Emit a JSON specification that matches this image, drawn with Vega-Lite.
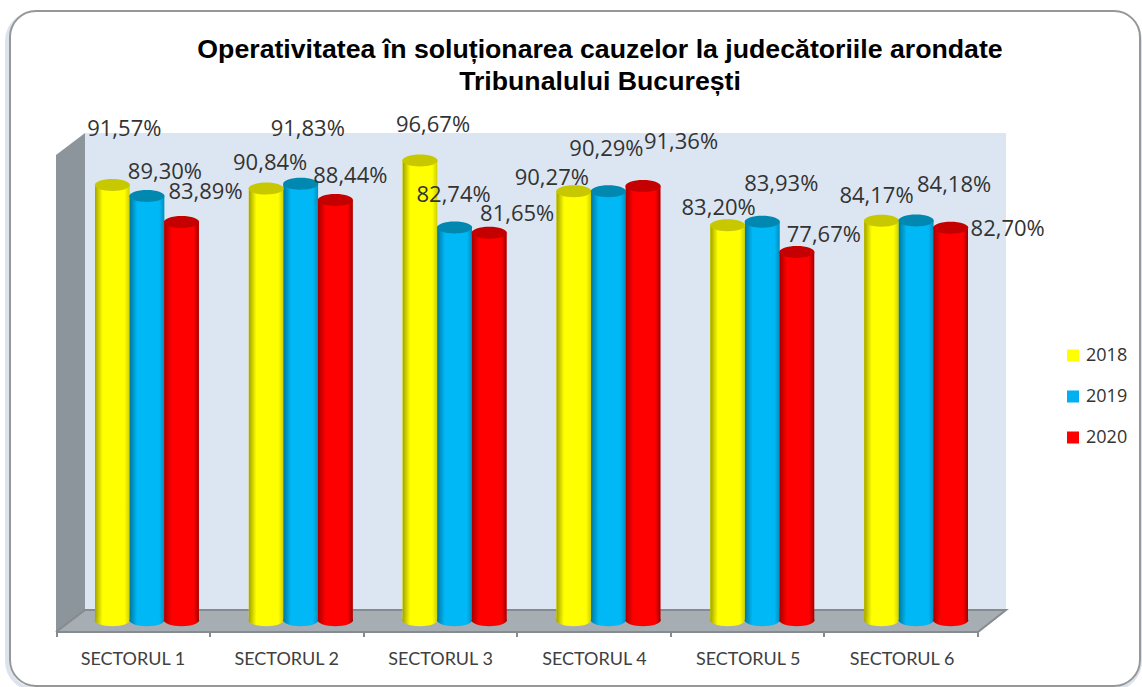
{"$schema":"https://vega.github.io/schema/vega-lite/v6.json","width":1142,"height":532,"autosize":"none","padding":{"top":100,"left":0,"right":0,"bottom":55},"background":"white","config":{"view":{"stroke":null}},"title":{"text":["Operativitatea în soluționarea cauzelor la judecătoriile arondate","Tribunalului București"],"font":"Liberation Sans","fontSize":26.7,"fontWeight":"bold","color":"#000000","anchor":"middle","frame":"group","dx":29,"offset":-86,"lineHeight":32},"datasets":{"rows":[{"sector":"SECTORUL 1","year":"2018","value":91.57,"label":"91,57%"},{"sector":"SECTORUL 1","year":"2019","value":89.30,"label":"89,30%"},{"sector":"SECTORUL 1","year":"2020","value":83.89,"label":"83,89%"},{"sector":"SECTORUL 2","year":"2018","value":90.84,"label":"90,84%"},{"sector":"SECTORUL 2","year":"2019","value":91.83,"label":"91,83%"},{"sector":"SECTORUL 2","year":"2020","value":88.44,"label":"88,44%"},{"sector":"SECTORUL 3","year":"2018","value":96.67,"label":"96,67%"},{"sector":"SECTORUL 3","year":"2019","value":82.74,"label":"82,74%"},{"sector":"SECTORUL 3","year":"2020","value":81.65,"label":"81,65%"},{"sector":"SECTORUL 4","year":"2018","value":90.27,"label":"90,27%"},{"sector":"SECTORUL 4","year":"2019","value":90.29,"label":"90,29%"},{"sector":"SECTORUL 4","year":"2020","value":91.36,"label":"91,36%"},{"sector":"SECTORUL 5","year":"2018","value":83.20,"label":"83,20%"},{"sector":"SECTORUL 5","year":"2019","value":83.93,"label":"83,93%"},{"sector":"SECTORUL 5","year":"2020","value":77.67,"label":"77,67%"},{"sector":"SECTORUL 6","year":"2018","value":84.17,"label":"84,17%"},{"sector":"SECTORUL 6","year":"2019","value":84.18,"label":"84,18%"},{"sector":"SECTORUL 6","year":"2020","value":82.70,"label":"82,70%"}]},"layer":[{"encoding":{"x":{"field":"x","type":"quantitative","scale":{"domain":[0,1142],"nice":false,"zero":false},"axis":null},"y":{"field":"y","type":"quantitative","scale":{"domain":[632,100],"nice":false,"zero":false},"axis":null}},"layer":[{"data":{"values":[{"x":7,"x2":1140,"y":13,"y2":689}]},"mark":{"type":"rect","cornerRadius":28,"fill":"white","stroke":"#dbe4ee","strokeWidth":4},"encoding":{"x2":{"field":"x2"},"y2":{"field":"y2"}}},{"data":{"values":[{"x":10,"x2":1140,"y":11,"y2":686}]},"mark":{"type":"rect","cornerRadius":26,"fill":"white","stroke":"#979797","strokeWidth":2},"encoding":{"x2":{"field":"x2"},"y2":{"field":"y2"}}},{"data":{"values":[{"x":85,"x2":1006,"y":133,"y2":610}]},"mark":{"type":"rect","fill":"#dce6f2"},"encoding":{"x2":{"field":"x2"},"y2":{"field":"y2"}}},{"data":{"values":[{"x":56,"y":155,"y2":632},{"x":85,"y":133,"y2":610}]},"mark":{"type":"area","fill":"#8c949c"},"encoding":{"y2":{"field":"y2"}}},{"data":{"values":[{"x":56,"y":632,"y2":632},{"x":85,"y":610,"y2":632},{"x":978,"y":610,"y2":632},{"x":1006,"y":610,"y2":610}]},"mark":{"type":"area","fill":"#a6adb3"},"encoding":{"y2":{"field":"y2"}}},{"data":{"values":[{"o":0,"x":56,"y":632},{"o":1,"x":85,"y":610},{"o":2,"x":1006,"y":610},{"o":3,"x":978,"y":632},{"o":4,"x":56,"y":632}]},"mark":{"type":"line","stroke":"#868b90","strokeWidth":2},"encoding":{"order":{"field":"o"}}},{"data":{"values":[{"x":57,"y":632,"y2":637},{"x":210,"y":632,"y2":637},{"x":364,"y":632,"y2":637},{"x":517,"y":632,"y2":637},{"x":671,"y":632,"y2":637},{"x":824,"y":632,"y2":637},{"x":978,"y":632,"y2":637}]},"mark":{"type":"rule","stroke":"#868b90","strokeWidth":2},"encoding":{"y2":{"field":"y2"}}}]},{"encoding":{"x":{"field":"sector","type":"nominal","scale":{"range":[70,993],"paddingInner":0.325,"paddingOuter":0.1625},"axis":{"title":null,"domain":false,"ticks":false,"zindex":1,"labelAngle":0,"labelFont":"Lato","labelFontSize":18,"labelColor":"#404040","labelPadding":18,"labelOffset":-14}},"xOffset":{"field":"year","type":"nominal"},"y":{"field":"value","type":"quantitative","scale":{"domain":[0,100],"range":[525.5,44.5],"nice":false},"axis":null}},"layer":[{"data":{"name":"rows"},"mark":{"type":"bar"},"encoding":{"y2":{"datum":1.1},"color":{"field":"year","type":"nominal","scale":{"domain":["2018","2019","2020"],"range":["#ffff00","#00b0f0","#ff0000"]},"legend":{"title":null,"orient":"none","legendX":1064,"legendY":244,"symbolType":"square","symbolSize":144,"symbolStrokeWidth":0,"labelFont":"Open Sans","labelFontSize":18,"labelColor":"#333333","labelOffset":4,"rowPadding":18,"clipHeight":23}}}},{"data":{"name":"rows"},"transform":[{"filter":"datum.year==='2018'"}],"mark":{"type":"bar","color":{"gradient":"linear","x1":0,"x2":1,"y1":0,"y2":0,"stops":[{"offset":0,"color":"#a3a300"},{"offset":0.22,"color":"#ffff00"},{"offset":0.85,"color":"#ffff00"},{"offset":1,"color":"#d0d000"}]}},"encoding":{"y2":{"datum":1.1}}},{"data":{"name":"rows"},"transform":[{"filter":"datum.year==='2019'"}],"mark":{"type":"bar","color":{"gradient":"linear","x1":0,"x2":1,"y1":0,"y2":0,"stops":[{"offset":0,"color":"#00789f"},{"offset":0.22,"color":"#00b8f5"},{"offset":0.85,"color":"#00b8f5"},{"offset":1,"color":"#0090c0"}]}},"encoding":{"y2":{"datum":1.1}}},{"data":{"name":"rows"},"transform":[{"filter":"datum.year==='2020'"}],"mark":{"type":"bar","color":{"gradient":"linear","x1":0,"x2":1,"y1":0,"y2":0,"stops":[{"offset":0,"color":"#a80000"},{"offset":0.22,"color":"#ff0000"},{"offset":0.85,"color":"#ff0000"},{"offset":1,"color":"#a00000"}]}},"encoding":{"y2":{"datum":1.1}}},{"data":{"name":"rows"},"transform":[{"filter":"datum.year==='2018'"}],"mark":{"type":"point","filled":true,"opacity":1,"size":1239,"shape":"M -1 0 A 1 0.34 0 1 1 1 0 A 1 0.34 0 1 1 -1 0 Z","color":{"gradient":"linear","x1":0,"x2":1,"y1":0,"y2":0,"stops":[{"offset":0,"color":"#a3a300"},{"offset":0.22,"color":"#ffff00"},{"offset":0.85,"color":"#ffff00"},{"offset":1,"color":"#d0d000"}]}},"encoding":{"y":{"datum":1.1}}},{"data":{"name":"rows"},"transform":[{"filter":"datum.year==='2019'"}],"mark":{"type":"point","filled":true,"opacity":1,"size":1239,"shape":"M -1 0 A 1 0.34 0 1 1 1 0 A 1 0.34 0 1 1 -1 0 Z","color":{"gradient":"linear","x1":0,"x2":1,"y1":0,"y2":0,"stops":[{"offset":0,"color":"#00789f"},{"offset":0.22,"color":"#00b8f5"},{"offset":0.85,"color":"#00b8f5"},{"offset":1,"color":"#0090c0"}]}},"encoding":{"y":{"datum":1.1}}},{"data":{"name":"rows"},"transform":[{"filter":"datum.year==='2020'"}],"mark":{"type":"point","filled":true,"opacity":1,"size":1239,"shape":"M -1 0 A 1 0.34 0 1 1 1 0 A 1 0.34 0 1 1 -1 0 Z","color":{"gradient":"linear","x1":0,"x2":1,"y1":0,"y2":0,"stops":[{"offset":0,"color":"#a80000"},{"offset":0.22,"color":"#ff0000"},{"offset":0.85,"color":"#ff0000"},{"offset":1,"color":"#a00000"}]}},"encoding":{"y":{"datum":1.1}}},{"data":{"name":"rows"},"mark":{"type":"point","filled":true,"opacity":1,"size":1239,"shape":"M -1 0 A 1 0.34 0 1 1 1 0 A 1 0.34 0 1 1 -1 0 Z"},"encoding":{"fill":{"field":"year","type":"nominal","legend":null,"scale":{"domain":["2018","2019","2020"],"range":["#c8c800","#0088b0","#c40000"]}}}},{"data":{"name":"rows"},"transform":[{"filter":"datum.label==='91,57%'"}],"mark":{"type":"text","dx":12,"dy":-56,"font":"Open Sans","fontSize":22,"fill":"#333"},"encoding":{"text":{"field":"label"}}},{"data":{"name":"rows"},"transform":[{"filter":"datum.label==='89,30%'"}],"mark":{"type":"text","dx":18,"dy":-24,"font":"Open Sans","fontSize":22,"fill":"#333"},"encoding":{"text":{"field":"label"}}},{"data":{"name":"rows"},"transform":[{"filter":"datum.label==='83,89%'"}],"mark":{"type":"text","dx":24,"dy":-30,"font":"Open Sans","fontSize":22,"fill":"#333"},"encoding":{"text":{"field":"label"}}},{"data":{"name":"rows"},"transform":[{"filter":"datum.label==='90,84%'"}],"mark":{"type":"text","dx":4,"dy":-26,"font":"Open Sans","fontSize":22,"fill":"#333"},"encoding":{"text":{"field":"label"}}},{"data":{"name":"rows"},"transform":[{"filter":"datum.label==='91,83%'"}],"mark":{"type":"text","dx":7,"dy":-55,"font":"Open Sans","fontSize":22,"fill":"#333"},"encoding":{"text":{"field":"label"}}},{"data":{"name":"rows"},"transform":[{"filter":"datum.label==='88,44%'"}],"mark":{"type":"text","dx":15,"dy":-24,"font":"Open Sans","fontSize":22,"fill":"#333"},"encoding":{"text":{"field":"label"}}},{"data":{"name":"rows"},"transform":[{"filter":"datum.label==='96,67%'"}],"mark":{"type":"text","dx":13,"dy":-36,"font":"Open Sans","fontSize":22,"fill":"#333"},"encoding":{"text":{"field":"label"}}},{"data":{"name":"rows"},"transform":[{"filter":"datum.label==='82,74%'"}],"mark":{"type":"text","dx":-1,"dy":-33,"font":"Open Sans","fontSize":22,"fill":"#333"},"encoding":{"text":{"field":"label"}}},{"data":{"name":"rows"},"transform":[{"filter":"datum.label==='81,65%'"}],"mark":{"type":"text","dx":28,"dy":-19,"font":"Open Sans","fontSize":22,"fill":"#333"},"encoding":{"text":{"field":"label"}}},{"data":{"name":"rows"},"transform":[{"filter":"datum.label==='90,27%'"}],"mark":{"type":"text","dx":-22,"dy":-13,"font":"Open Sans","fontSize":22,"fill":"#333"},"encoding":{"text":{"field":"label"}}},{"data":{"name":"rows"},"transform":[{"filter":"datum.label==='90,29%'"}],"mark":{"type":"text","dx":-2,"dy":-42,"font":"Open Sans","fontSize":22,"fill":"#333"},"encoding":{"text":{"field":"label"}}},{"data":{"name":"rows"},"transform":[{"filter":"datum.label==='91,36%'"}],"mark":{"type":"text","dx":38,"dy":-44,"font":"Open Sans","fontSize":22,"fill":"#333"},"encoding":{"text":{"field":"label"}}},{"data":{"name":"rows"},"transform":[{"filter":"datum.label==='83,20%'"}],"mark":{"type":"text","dx":-9,"dy":-17,"font":"Open Sans","fontSize":22,"fill":"#333"},"encoding":{"text":{"field":"label"}}},{"data":{"name":"rows"},"transform":[{"filter":"datum.label==='83,93%'"}],"mark":{"type":"text","dx":19,"dy":-38,"font":"Open Sans","fontSize":22,"fill":"#333"},"encoding":{"text":{"field":"label"}}},{"data":{"name":"rows"},"transform":[{"filter":"datum.label==='77,67%'"}],"mark":{"type":"text","dx":27,"dy":-17,"font":"Open Sans","fontSize":22,"fill":"#333"},"encoding":{"text":{"field":"label"}}},{"data":{"name":"rows"},"transform":[{"filter":"datum.label==='84,17%'"}],"mark":{"type":"text","dx":-5,"dy":-25,"font":"Open Sans","fontSize":22,"fill":"#333"},"encoding":{"text":{"field":"label"}}},{"data":{"name":"rows"},"transform":[{"filter":"datum.label==='84,18%'"}],"mark":{"type":"text","dx":38,"dy":-36,"font":"Open Sans","fontSize":22,"fill":"#333"},"encoding":{"text":{"field":"label"}}},{"data":{"name":"rows"},"transform":[{"filter":"datum.label==='82,70%'"}],"mark":{"type":"text","dx":57,"dy":1,"font":"Open Sans","fontSize":22,"fill":"#333"},"encoding":{"text":{"field":"label"}}}]}],"resolve":{"scale":{"x":"independent","y":"independent"}}}
